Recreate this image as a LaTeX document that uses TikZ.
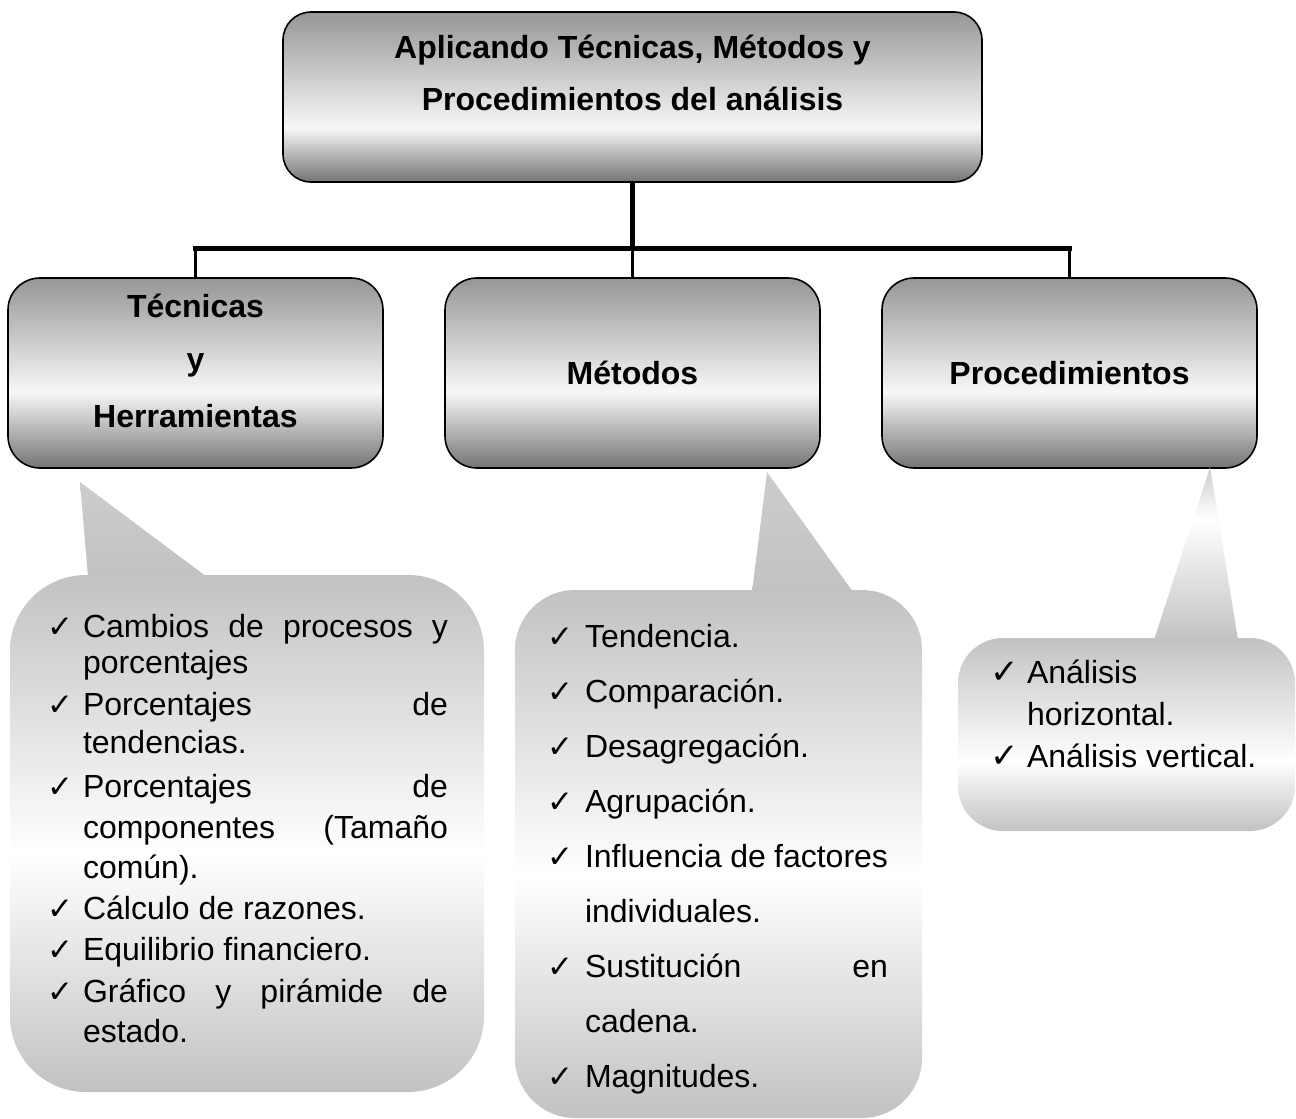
\documentclass[tikz,border=0pt]{standalone}
\usepackage{fontspec}
\setmainfont{Liberation Sans}
\newfontfamily\chkfont{DejaVu Sans}
\definecolor{gtop}{HTML}{969696}
\definecolor{gbot}{HTML}{747474}
\definecolor{glight}{HTML}{F7F7F7}
\definecolor{cgray}{HTML}{C2C2C2}
\definecolor{ctip}{HTML}{CDCDCD}
% vertical shadings: path bottom = 25bp, path top = 75bp
\pgfdeclareverticalshading{topshade}{100bp}{color(0bp)=(gbot); color(25bp)=(gbot); color(41bp)=(glight); color(75bp)=(gtop); color(100bp)=(gtop)}
\pgfdeclareverticalshading{rowshade}{100bp}{color(0bp)=(gbot); color(25bp)=(gbot); color(45bp)=(glight); color(75bp)=(gtop); color(100bp)=(gtop)}
\pgfdeclareverticalshading{callmid}{100bp}{color(0bp)=(cgray); color(25bp)=(cgray); color(48bp)=(white); color(75bp)=(cgray); color(100bp)=(cgray)}
\pgfdeclareverticalshading{callright}{100bp}{color(0bp)=(cgray); color(25bp)=(cgray); color(43bp)=(white); color(75bp)=(cgray); color(100bp)=(cgray)}
\pgfdeclareverticalshading{ptrshade}{100bp}{color(0bp)=(cgray); color(25bp)=(cgray); color(75bp)=(ctip); color(100bp)=(ctip)}
\pgfdeclareverticalshading{ptrright}{100bp}{color(0bp)=(cgray); color(25bp)=(cgray); color(60bp)=(white); color(75bp)=(ctip); color(100bp)=(ctip)}
\begin{document}
\begin{tikzpicture}[x=1pt,y=-1pt,
  every node/.style={inner sep=0pt, outer sep=0pt},
  boxtext/.style={font=\fontsize{32}{36}\selectfont\bfseries, anchor=base},
  itemtext/.style={font=\fontsize{32}{36}\selectfont, anchor=base west},
  chk/.style={font=\chkfont\fontsize{31}{33}\selectfont, anchor=base west},
  chkbig/.style={font=\chkfont\fontsize{34}{36}\selectfont, anchor=base west},
  mainbox/.style={draw=black, line width=1.6pt, rounded corners=28pt, shading=topshade, minimum width=699pt, minimum height=170pt},
  rowbox/.style={draw=black, line width=1.6pt, rounded corners=32pt, shading=rowshade, minimum width=375pt, minimum height=190pt},
  trunk/.style={line width=5pt},
  branch/.style={line width=3.6pt}
]
\useasboundingbox (0,0) rectangle (1296,1119);

% ---------- boxes ----------
\node[mainbox] (top) at (632.5,97) {};
\node[boxtext] (toptxt1) at (632.5,58) {Aplicando Técnicas, Métodos y};
\node[boxtext] (toptxt2) at (632.5,110) {Procedimientos del análisis};

\node[rowbox] (tec) at (195.5,373) {};
\node[rowbox] (met) at (632.5,373) {};
\node[rowbox] (pro) at (1069.5,373) {};
\node[boxtext] (tec1) at (195.5,317) {Técnicas};
\node[boxtext] (tec2) at (195.5,370) {y};
\node[boxtext] (tec3) at (195.5,427) {Herramientas};
\node[boxtext] (mettxt) at (632.5,384) {Métodos};
\node[boxtext] (protxt) at (1069.5,384) {Procedimientos};

% ---------- connectors ----------
\coordinate (j) at (632.5,248);
\coordinate (jl) at (tec.north |- j);
\coordinate (jr) at (pro.north |- j);
\draw[trunk] (top.south) -- (j);
\draw[trunk, line cap=rect] (jl) -- (jr);
\draw[branch] (jl) -- (tec.north);
\draw[branch] (j) -- (met.north);
\draw[branch] (jr) -- (pro.north);

% ---------- callouts ----------
\shade[shading=callmid, rounded corners=76pt] (10,575) rectangle (484,1092);
\shade[shading=ptrshade] (80,482) -- (88,577) -- (207,577) -- cycle;

\shade[shading=callmid, rounded corners=60pt] (515,590) rectangle (922,1118);
\shade[shading=ptrshade] (767,472) -- (752,592) -- (853,592) -- cycle;

\shade[shading=callright, rounded corners=45pt] (958,638) rectangle (1295,831);
\shade[shading=ptrright] (1210,467) -- (1154,640) -- (1238,640) -- cycle;

% ---------- left callout text ----------
\node[chk] (lc1) at (47,637) {✓};
\node[itemtext] (l1) at (83,637) {\makebox[365pt][s]{Cambios de procesos y}};
\node[itemtext] (l2) at (83,673) {porcentajes};
\node[chk] (lc2) at (47,715) {✓};
\node[itemtext] (l3) at (83,715) {\makebox[365pt][s]{Porcentajes de}};
\node[itemtext] (l4) at (83,753) {tendencias.};
\node[chk] (lc3) at (47,797) {✓};
\node[itemtext] (l5) at (83,797) {\makebox[365pt][s]{Porcentajes de}};
\node[itemtext] (l6) at (83,838) {\makebox[365pt][s]{componentes (Tamaño}};
\node[itemtext] (l7) at (83,878) {común).};
\node[chk] (lc4) at (47,919) {✓};
\node[itemtext] (l8) at (83,919) {Cálculo de razones.};
\node[chk] (lc5) at (47,960) {✓};
\node[itemtext] (l9) at (83,960) {Equilibrio financiero.};
\node[chk] (lc6) at (47,1002) {✓};
\node[itemtext] (l10) at (83,1002) {\makebox[365pt][s]{Gráfico y pirámide de}};
\node[itemtext] (l11) at (83,1042) {estado.};

% ---------- middle callout text ----------
\node[chk] (mc1) at (547,647) {✓};
\node[itemtext] (m1) at (585,647) {Tendencia.};
\node[chk] (mc2) at (547,702) {✓};
\node[itemtext] (m2) at (585,702) {Comparación.};
\node[chk] (mc3) at (547,757) {✓};
\node[itemtext] (m3) at (585,757) {Desagregación.};
\node[chk] (mc4) at (547,812) {✓};
\node[itemtext] (m4) at (585,812) {Agrupación.};
\node[chk] (mc5) at (547,867) {✓};
\node[itemtext] (m5) at (585,867) {\makebox[303pt][s]{Influencia de factores}};
\node[itemtext] (m6) at (585,922) {individuales.};
\node[chk] (mc6) at (547,977) {✓};
\node[itemtext] (m7) at (585,977) {\makebox[303pt][s]{Sustitución en}};
\node[itemtext] (m8) at (585,1032) {cadena.};
\node[chk] (mc7) at (547,1087) {✓};
\node[itemtext] (m9) at (585,1087) {Magnitudes.};

% ---------- right callout text ----------
\node[chkbig] (rc1) at (990,683) {✓};
\node[itemtext] (r1) at (1027,683) {Análisis};
\node[itemtext] (r2) at (1027,725) {horizontal.};
\node[chkbig] (rc2) at (990,767) {✓};
\node[itemtext] (r3) at (1027,767) {Análisis vertical.};
\end{tikzpicture}
\end{document}
